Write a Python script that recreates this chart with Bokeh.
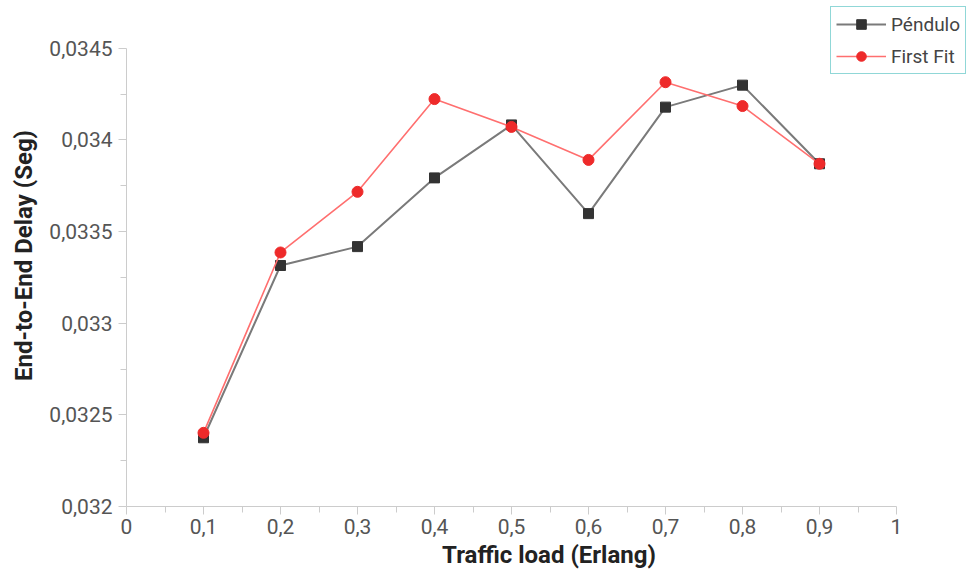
from bokeh.plotting import figure
from bokeh.models import (Range1d, FixedTicker, CustomJSTickFormatter, Legend, LegendItem)
from bokeh.embed import file_html
from bokeh.resources import INLINE

# Data
loads = [0.1, 0.2, 0.3, 0.4, 0.5, 0.6, 0.7, 0.8, 0.9]
pendulo = [0.032375, 0.033315, 0.033418, 0.033793, 0.034082, 0.033598, 0.034179, 0.034299, 0.03387]
first_fit = [0.032402, 0.033386, 0.033717, 0.034223, 0.034071, 0.033891, 0.034315, 0.034185, 0.03387]

x_ticks = [0, 0.1, 0.2, 0.3, 0.4, 0.5, 0.6, 0.7, 0.8, 0.9, 1.0]
x_minor = [0.05, 0.15, 0.25, 0.35, 0.45, 0.55, 0.65, 0.75, 0.85, 0.95]
y_ticks = [0.032, 0.0325, 0.033, 0.0335, 0.034, 0.0345]
y_minor = [0.03225, 0.03275, 0.03325, 0.03375, 0.03425]
x_bounds = (0, 1)
y_bounds = (0.032, 0.0345)

x_title = "Traffic load (Erlang)"
y_title = "End-to-End Delay (Seg)"
names = ["Péndulo", "First Fit"]

# The frame is extended beyond the axes' bounds so the legend (top right,
# outside the axes area) is not clipped.
p = figure(width=971, height=571, output_backend="svg", toolbar_location=None,
           x_range=Range1d(0, 1.0974), y_range=Range1d(0.032, 0.034739),
           min_border_left=126, min_border_right=0, min_border_top=4, min_border_bottom=63)
p.outline_line_color = None
p.xgrid.grid_line_color = None
p.ygrid.grid_line_color = None

fmt = CustomJSTickFormatter(code="""
var v = Math.round(tick*100000)/100000;
return v.toString().replace('.', ',');
""")

for ax, ticks, minor, bnds in ((p.xaxis[0], x_ticks, x_minor, x_bounds),
                               (p.yaxis[0], y_ticks, y_minor, y_bounds)):
    ax.ticker = FixedTicker(ticks=ticks, minor_ticks=minor)
    ax.bounds = bnds
    ax.formatter = fmt
    ax.axis_line_color = "#cccccc"
    ax.major_tick_line_color = "#cccccc"
    ax.minor_tick_line_color = "#cccccc"
    ax.major_tick_out = 8
    ax.major_tick_in = 0
    ax.minor_tick_out = 6
    ax.minor_tick_in = 0
    ax.major_label_text_font = "Roboto"
    ax.major_label_text_font_size = "21px"
    ax.major_label_text_color = "#555555"
    ax.axis_label_text_font = "Roboto"
    ax.axis_label_text_font_style = "bold"
    ax.axis_label_text_font_size = "24px"
    ax.axis_label_text_color = "#222222"

p.xaxis[0].axis_label = x_title
p.yaxis[0].axis_label = y_title
p.xaxis[0].major_label_standoff = 4
p.yaxis[0].major_label_standoff = 6
p.xaxis[0].axis_label_standoff = 4
p.yaxis[0].axis_label_standoff = 8

l1 = p.line(loads, pendulo, line_color="#7a7a7a", line_width=2)
m1 = p.scatter(loads, pendulo, marker="square", size=10, fill_color="#333333", line_color="#333333")
l2 = p.line(loads, first_fit, line_color="#ff6f6f", line_width=1.6)
m2 = p.scatter(loads, first_fit, marker="circle", size=11, fill_color="#ee2a2a", line_color="#ee2a2a")

legend = Legend(items=[LegendItem(label=names[0], renderers=[l1, m1]),
                       LegendItem(label=names[1], renderers=[l2, m2])],
                location=(704, 432))
legend.border_line_color = "#22b0b0"
legend.border_line_width = 1
legend.background_fill_color = "white"
legend.background_fill_alpha = 1
legend.label_text_font = "Roboto"
legend.label_text_font_size = "19px"
legend.label_text_color = "#444444"
legend.glyph_width = 50
legend.glyph_height = 24
legend.label_height = 24
legend.spacing = 8
legend.padding = 5
legend.margin = 0
legend.label_standoff = 5
p.add_layout(legend, "center")

open("out.html", "w").write(file_html(p, INLINE))
